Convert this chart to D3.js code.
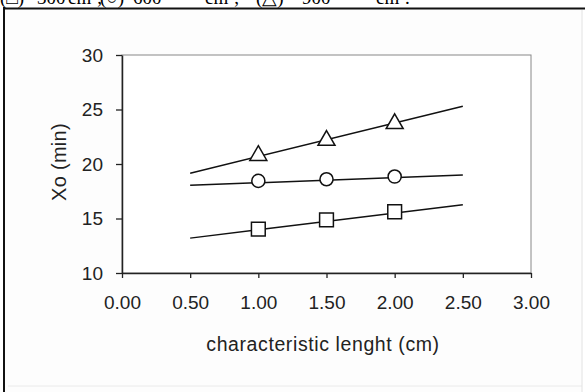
<!DOCTYPE html>
<html><head><meta charset="utf-8">
<script src="https://cdn.jsdelivr.net/npm/d3@7"></script>
<style>html,body{margin:0;padding:0;background:#fff;}svg{display:block;}</style>
</head><body>
<svg id="c" width="585" height="392"></svg>
<script>
// ---- data ----
const xValues = [1.0, 1.5, 2.0];
const seriesNames = ["300 cm3", "600 cm3", "900 cm3"];
const squareValues = [14.03, 14.88, 15.62];
const circleValues = [18.45, 18.6, 18.85];
const triangleValues = [20.78, 22.17, 23.7];
const trendX = [0.5, 2.5];
const squareTrend = [13.2, 16.27];
const circleTrend = [18.05, 18.98];
const triangleTrend = [19.15, 25.3];
const xTicks = [0, 0.5, 1.0, 1.5, 2.0, 2.5, 3.0];
const yTicks = [10, 15, 20, 25, 30];
const xTitle = "characteristic lenght (cm)";
const yTitle = "Xo (min)";
const captionParts = [["(\u25A1)", 0], ["300", 37], ["cm\u00B3;", 68], ["(\u25CB)", 100], ["600", 133], ["cm\u00B3;", 205], ["(\u25B3)", 256], ["900", 302], ["cm\u00B3.", 376]];

const svg = d3.select("#c");

// outer frame
svg.append("rect").attr("x", 4).attr("y", 8).attr("width", 578).attr("height", 390)
  .attr("fill", "#fdfdfd").attr("stroke", "none");
svg.append("line").attr("x1", 8).attr("x2", 582).attr("y1", 386).attr("y2", 386).attr("stroke", "#eaeaea").attr("stroke-width", 1);
svg.append("line").attr("x1", 582).attr("x2", 582).attr("y1", 10).attr("y2", 392).attr("stroke", "#e2e2e2").attr("stroke-width", 1);
svg.append("line").attr("x1", 4).attr("x2", 4).attr("y1", 7).attr("y2", 392).attr("stroke", "#111").attr("stroke-width", 2);
svg.append("line").attr("x1", 3).attr("x2", 585).attr("y1", 8.5).attr("y2", 8.5).attr("stroke", "#111").attr("stroke-width", 2);

// caption (clipped at top)
svg.append("g").selectAll("text").data(captionParts).join("text")
  .attr("x", d => d[1]).attr("y", 4)
  .attr("font-family", "Liberation Serif, Times New Roman, serif").attr("font-size", 19)
  .attr("fill", "#000").text(d => d[0]);

const L = 122, R = 531, T = 55, B = 273;
const x = d3.scaleLinear().domain([0, 3]).range([L, R]);
const y = d3.scaleLinear().domain([10, 30]).range([B, T]);

// plot area
svg.append("rect").attr("x", L).attr("y", T).attr("width", R - L).attr("height", B - T)
  .attr("fill", "#fff").attr("stroke", "#888").attr("stroke-width", 1);

const font = "Arial, Liberation Sans, sans-serif";
const xAxis = svg.append("g").attr("transform", `translate(0,${B})`)
  .call(d3.axisBottom(x).tickValues(xTicks).tickFormat(d3.format(".2f")).tickSizeOuter(0).tickSizeInner(5).tickPadding(18));
const yAxis = svg.append("g").attr("transform", `translate(${L},0)`)
  .call(d3.axisLeft(y).tickValues(yTicks).tickSizeOuter(0).tickSizeInner(6).tickPadding(13));
[xAxis, yAxis].forEach(a => {
  a.selectAll("path.domain").attr("stroke", "#222").attr("stroke-width", 1.5);
  a.selectAll(".tick line").attr("stroke", "#222").attr("stroke-width", 1.3);
  a.selectAll("text").attr("font-family", font).attr("font-size", 19).attr("fill", "#222");
});

svg.append("text").attr("x", 323).attr("y", 351).attr("text-anchor", "middle")
  .attr("font-family", font).attr("font-size", 19.5).attr("letter-spacing", 0.6).attr("fill", "#222").text(xTitle);
svg.append("text").attr("transform", `translate(66,162) rotate(-90)`).attr("text-anchor", "middle")
  .attr("font-family", font).attr("font-size", 20).attr("letter-spacing", 0.3).attr("fill", "#222").text(yTitle);

const line = d3.line().x(d => x(d[0])).y(d => y(d[1]));
const series = [
  { vals: squareValues, trend: squareTrend, sym: d3.symbolSquare, size: 190 },
  { vals: circleValues, trend: circleTrend, sym: d3.symbolCircle, size: 135 },
  { vals: triangleValues, trend: triangleTrend, sym: d3.symbolTriangle, size: 125 }
];
series.forEach(s => {
  svg.append("path").attr("d", line(trendX.map((v, i) => [v, s.trend[i]])))
    .attr("fill", "none").attr("stroke", "#111").attr("stroke-width", 1.5);
});
series.forEach(s => {
  svg.append("g").selectAll("path").data(xValues.map((v, i) => [v, s.vals[i]])).join("path")
    .attr("d", d3.symbol().type(s.sym).size(s.size))
    .attr("transform", d => `translate(${x(d[0])},${y(d[1])})`)
    .attr("fill", "#fff").attr("stroke", "#111").attr("stroke-width", 1.5);
});
</script>
</body></html>
